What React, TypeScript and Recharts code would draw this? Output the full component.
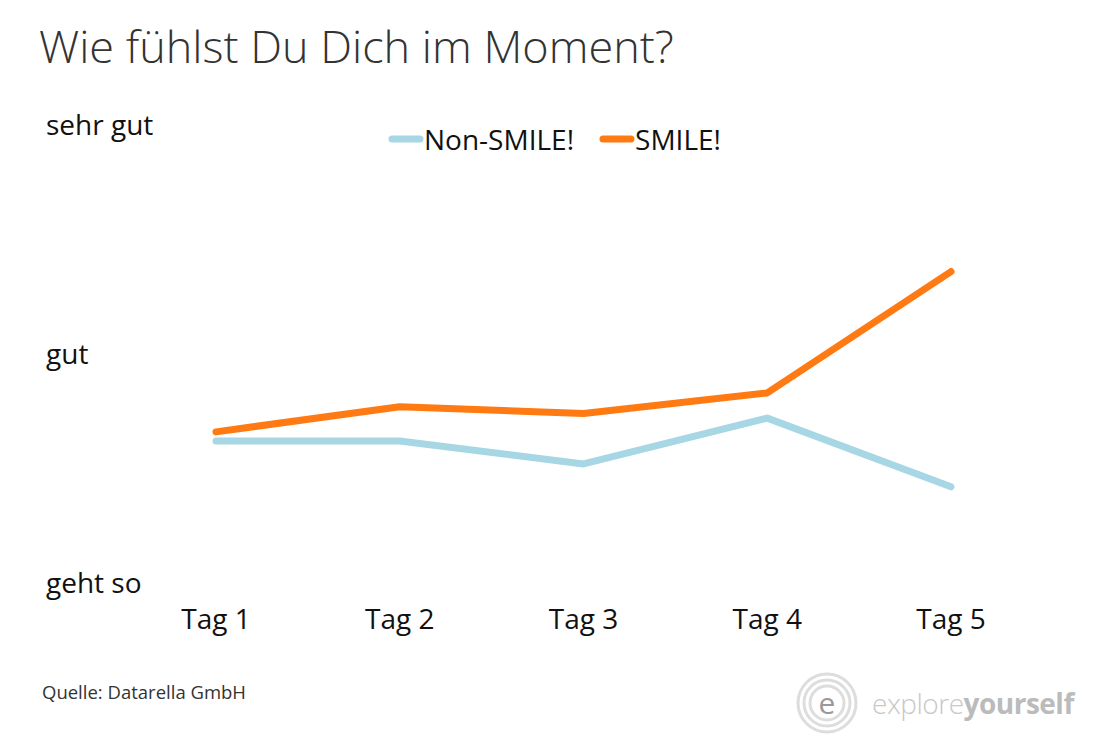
import React from "react";
import { LineChart, Line, XAxis, YAxis, Legend } from "recharts";

const days = ["Tag 1", "Tag 2", "Tag 3", "Tag 4", "Tag 5"];
const nonSmile = [1.62, 1.62, 1.52, 1.72, 1.42];
const smile = [1.66, 1.77, 1.74, 1.83, 2.36];
const moodTicks = [1, 2, 3];
const moodLabels: Record<number, string> = { 1: "geht so", 2: "gut", 3: "sehr gut" };

const data = days.map((day, i) => ({ day, nonSmile: nonSmile[i], smile: smile[i] }));

const FONT = "'Open Sans', 'Noto Sans', sans-serif";

function MoodTick(props: any) {
  const { y, payload } = props;
  return (
    <text x={46} y={y} dy="0.35em" textAnchor="start" fontSize={28} fill="#111" fontFamily={FONT}>
      {moodLabels[payload.value]}
    </text>
  );
}

function DayTick(props: any) {
  const { x, y, payload } = props;
  return (
    <text x={x} y={y} dy="0.35em" textAnchor="middle" fontSize={28} fill="#111" fontFamily={FONT}>
      {payload.value}
    </text>
  );
}

function LegendContent(props: any) {
  const items = props.payload || [];
  return (
    <div style={{ display: "flex", justifyContent: "center", gap: 25, fontFamily: FONT, fontSize: 28, color: "#111", marginLeft: -10 }}>
      {items.map((it: any) => (
        <div key={it.value} style={{ display: "flex", alignItems: "center" }}>
          <svg width={36} height={10}>
            <line x1={4} y1={5} x2={32} y2={5} stroke={it.color} strokeWidth={7} strokeLinecap="round" />
          </svg>
          <span>{it.value}</span>
        </div>
      ))}
    </div>
  );
}

function Logo() {
  return (
    <div style={{ position: "absolute", left: 796, top: 672, display: "flex", alignItems: "center" }}>
      <svg width={62} height={62}>
        {[29, 23, 17].map((r) => (
          <circle key={r} cx={31} cy={31} r={r} fill="none" stroke="#ddd" strokeWidth={3} />
        ))}
        <text x={31} y={31} dy="0.35em" textAnchor="middle" fontSize={30} fill="#999" fontFamily={FONT}>
          e
        </text>
      </svg>
      <span style={{ marginLeft: 14, fontFamily: FONT, fontSize: 28, color: "#c8c8c8", fontWeight: 300, letterSpacing: -0.5 }}>
        explore<span style={{ fontWeight: 700, color: "#bbb" }}>yourself</span>
      </span>
    </div>
  );
}

export default function App() {
  return (
    <div style={{ position: "absolute", left: 0, top: 0, width: 1119, height: 756, background: "#fff", overflow: "hidden" }}>
      <div style={{ position: "absolute", left: 39, top: 15, fontFamily: FONT, fontWeight: 300, fontSize: 45, color: "#333" }}>
        Wie fühlst Du Dich im Moment?
      </div>
      <LineChart width={1119} height={756} data={data} margin={{ top: 125, right: 168, bottom: 113, left: 16 }}>
        <XAxis dataKey="day" axisLine={false} tickLine={false} tick={<DayTick />} tickMargin={30} height={60} />
        <YAxis
          type="number"
          domain={[1, 3]}
          ticks={moodTicks}
          axisLine={false}
          tickLine={false}
          tick={<MoodTick />}
          width={200}
        />
        <Legend
          layout="vertical"
          verticalAlign="middle"
          align="center"
          content={<LegendContent />}
          wrapperStyle={{ top: 120, left: 0, width: 1119 }}
        />
        <Line
          dataKey="nonSmile"
          name="Non-SMILE!"
          stroke="#a7d6e4"
          strokeWidth={7}
          strokeLinecap="round"
          strokeLinejoin="round"
          dot={false}
          activeDot={false}
          isAnimationActive={false}
        />
        <Line
          dataKey="smile"
          name="SMILE!"
          stroke="#ff7a12"
          strokeWidth={7}
          strokeLinecap="round"
          strokeLinejoin="round"
          dot={false}
          activeDot={false}
          isAnimationActive={false}
        />
      </LineChart>
      <div style={{ position: "absolute", left: 42, top: 679, fontFamily: FONT, fontSize: 18.5, color: "#333" }}>
        Quelle: Datarella GmbH
      </div>
      <Logo />
    </div>
  );
}
